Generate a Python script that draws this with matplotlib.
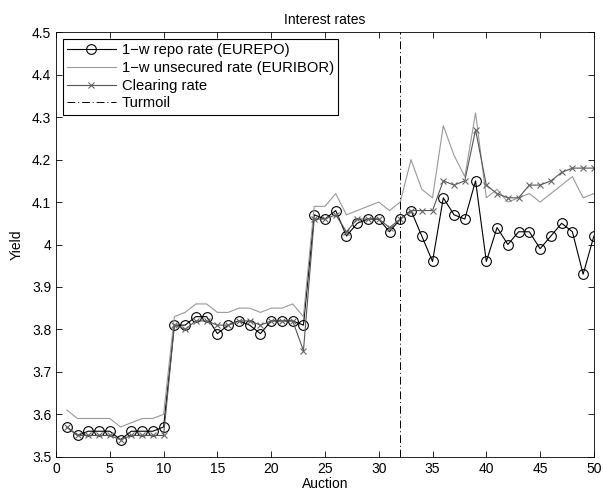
import matplotlib
matplotlib.use("Agg")
import matplotlib.pyplot as plt
import numpy as np

plt.rcParams['font.family'] = ['Liberation Sans', 'DejaVu Sans']

auction = list(range(1, 51))

eurepo = [3.57, 3.55, 3.56, 3.56, 3.56, 3.54, 3.56, 3.56, 3.56, 3.57,
          3.81, 3.81, 3.83, 3.83, 3.79, 3.81, 3.82, 3.81, 3.79, 3.82,
          3.82, 3.82, 3.81, 4.07, 4.06, 4.08, 4.02, 4.05, 4.06, 4.06,
          4.03, 4.06, 4.08, 4.02, 3.96, 4.11, 4.07, 4.06, 4.15, 3.96,
          4.04, 4.00, 4.03, 4.03, 3.99, 4.02, 4.05, 4.03, 3.93, 4.02]

euribor = [3.61, 3.59, 3.59, 3.59, 3.59, 3.57, 3.58, 3.59, 3.59, 3.60,
           3.83, 3.84, 3.86, 3.86, 3.84, 3.84, 3.85, 3.85, 3.84, 3.85,
           3.85, 3.86, 3.83, 4.09, 4.09, 4.12, 4.07, 4.08, 4.09, 4.10,
           4.08, 4.10, 4.20, 4.13, 4.11, 4.28, 4.21, 4.16, 4.31, 4.11,
           4.13, 4.10, 4.11, 4.12, 4.10, 4.12, 4.14, 4.16, 4.11, 4.12]

clearing = [3.57, 3.55, 3.55, 3.55, 3.55, 3.54, 3.55, 3.55, 3.55, 3.55,
            3.81, 3.80, 3.82, 3.82, 3.81, 3.81, 3.82, 3.82, 3.81, 3.82,
            3.82, 3.82, 3.75, 4.06, 4.06, 4.07, 4.03, 4.06, 4.06, 4.06,
            4.04, 4.06, 4.08, 4.08, 4.08, 4.15, 4.14, 4.15, 4.27, 4.14,
            4.12, 4.11, 4.11, 4.14, 4.14, 4.15, 4.17, 4.18, 4.18, 4.18]

turmoil_x = 32
x_ticks = [0, 5, 10, 15, 20, 25, 30, 35, 40, 45, 50]
y_ticks = [3.5, 3.6, 3.7, 3.8, 3.9, 4.0, 4.1, 4.2, 4.3, 4.4, 4.5]
y_tick_labels = ['3.5', '3.6', '3.7', '3.8', '3.9', '4', '4.1', '4.2', '4.3', '4.4', '4.5']

fig = plt.figure(figsize=(6.03, 4.95), dpi=100)
ax = fig.add_axes([0.0929, 0.0774, 0.892, 0.8573])

ax.plot(auction, eurepo, color='black', linewidth=0.8, marker='o', markersize=7,
        markerfacecolor='none', markeredgecolor='black', markeredgewidth=0.8,
        label='1\u2212w repo rate (EUREPO)')
ax.plot(auction, euribor, color='#999999', linewidth=0.8,
        label='1\u2212w unsecured rate (EURIBOR)')
ax.plot(auction, clearing, color='#555555', linewidth=0.8, marker='x', markersize=5,
        markeredgecolor='#666666', markeredgewidth=0.8, label='Clearing rate')
ax.plot([turmoil_x, turmoil_x], [3.5, 4.5], color='black', linewidth=0.7,
        linestyle=(0, (8, 3, 1, 3)), label='Turmoil')

ax.set_xlim(0, 50)
ax.set_ylim(3.5, 4.5)
ax.set_xticks(x_ticks)
ax.set_yticks(y_ticks)
ax.set_yticklabels(y_tick_labels)
ax.tick_params(direction='in', top=True, right=True, labelsize=10, length=4, width=0.6)
for s in ax.spines.values():
    s.set_linewidth(0.6)

ax.set_title('Interest rates', fontsize=10)
ax.set_xlabel('Auction', fontsize=10, labelpad=1)
ax.set_ylabel('Yield', fontsize=10, labelpad=6)

leg = ax.legend(loc='upper left', fontsize=10.6, frameon=True, fancybox=False,
                edgecolor='black', framealpha=1, borderpad=0.3, labelspacing=0.25,
                handlelength=3.3, handletextpad=0.4, borderaxespad=0.45)
leg.get_frame().set_linewidth(0.8)

fig.savefig('out.png', dpi=100)
